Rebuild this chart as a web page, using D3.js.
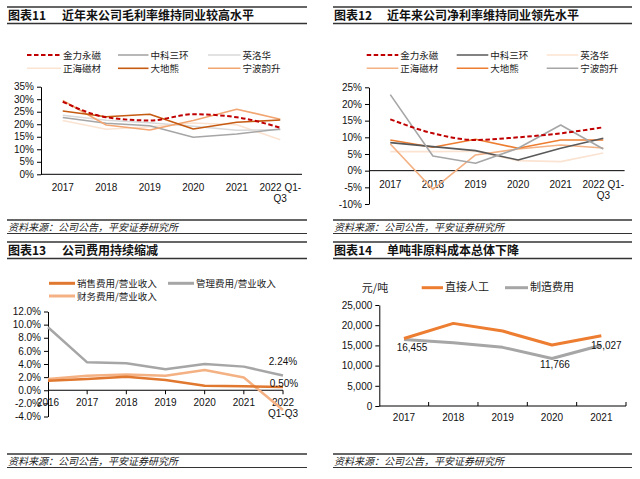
<!DOCTYPE html>
<html><head><meta charset="utf-8">
<script src="https://cdn.jsdelivr.net/npm/d3@7"></script>
<style>
body{margin:0;background:#fff;}
text{font-family:"Liberation Sans","Noto Sans CJK SC",sans-serif;}
.cn{font-family:"Noto Sans CJK SC","Liberation Sans",sans-serif;}
</style></head>
<body>
<svg id="c" width="640" height="479"></svg>
<script>
// ---------- DATA ----------
const years6 = ["2017","2018","2019","2020","2021","2022 Q1-Q3"];
const companies = ["金力永磁","中科三环","英洛华","正海磁材","大地熊","宁波韵升"];
// Chart 11: gross margin (%)
const gross_jlym = [29.0, 22.8, 21.5, 24.0, 22.8, 18.6];
const gross_zksh = [22.7, 20.4, 19.4, 14.8, 16.1, 18.1];
const gross_ylh  = [23.6, 21.6, 20.6, 19.2, 17.6, 17.8];
const gross_zhcc = [21.5, 18.0, 19.0, 20.5, 19.8, 13.8];
const gross_ddx  = [25.3, 23.0, 24.0, 18.1, 20.8, 21.7];
const gross_nbys = [29.5, 19.7, 17.7, 21.5, 26.0, 22.0];
// Chart 12: net margin (%)
const net_jlym = [15.4, 11.2, 9.2, 10.0, 11.2, 13.0];
const net_zksh = [8.4, 7.2, 6.0, 3.2, 6.7, 9.7];
const net_ylh  = [5.7, 5.7, 5.8, 3.0, 2.7, 5.3];
const net_zhcc = [8.0, -5.6, 4.7, 6.5, 7.7, 6.8];
const net_ddx  = [9.2, 7.0, 9.4, 6.7, 9.2, 9.2];
const net_nbys = [22.8, 4.4, 2.2, 6.7, 13.7, 6.5];
// Chart 13: expense ratios (%)
const years7 = ["2016","2017","2018","2019","2020","2021","2022 Q1-Q3"];
const expNames = ["销售费用/营业收入","管理费用/营业收入","财务费用/营业收入"];
const sellExp = [1.45, 1.7, 2.05, 1.55, 0.7, 0.6, 0.50];
const mgmtExp = [9.6, 4.25, 4.1, 3.2, 4.0, 3.6, 2.24];
const finExp  = [1.7, 2.2, 2.4, 2.2, 3.1, 1.95, -3.0];
// Chart 14: per-ton non-material cost (元/吨)
const years5 = ["2017","2018","2019","2020","2021"];
const costNames = ["直接人工","制造费用"];
const labor = [16700, 20450, 18550, 15100, 17400];
const mfg   = [16455, 15670, 14520, 11766, 15027];
const mfgLabels = [[0,"16,455"],[3,"11,766"],[4,"15,027"]];
// tick labels
const ticks11 = [0,5,10,15,20,25,30,35];
const ticks12 = [-10,-5,0,5,10,15,20,25];
const ticks13 = [-4,-2,0,2,4,6,8,10,12];
const ticks14 = [0,5000,10000,15000,20000,25000];

// ---------- HELPERS ----------
const svg = d3.select("#c");
const INK = "#333";

function frame(x0, x1, titleNum, titleText, titleX, top, srcY){
  const g = svg.append("g");
  g.append("line").attr("x1",x0).attr("x2",x1).attr("y1",top).attr("y2",top).attr("stroke",INK).attr("stroke-width",1.5);
  g.append("line").attr("x1",x0).attr("x2",x1).attr("y1",top+16.5).attr("y2",top+16.5).attr("stroke",INK).attr("stroke-width",1.5);
  g.append("text").attr("class","cn").attr("x",x0+1).attr("y",top+12.5).attr("font-size",12).attr("font-weight","bold").attr("fill","#111").text(titleNum);
  g.append("text").attr("class","cn").attr("x",titleX).attr("y",top+12.5).attr("font-size",12).attr("font-weight","bold").attr("fill","#111").text(titleText);
  g.append("line").attr("x1",x0).attr("x2",x1).attr("y1",srcY-7).attr("y2",srcY-7).attr("stroke",INK).attr("stroke-width",1.5);
  g.append("line").attr("x1",x0).attr("x2",x1).attr("y1",srcY+6.5).attr("y2",srcY+6.5).attr("stroke",INK).attr("stroke-width",1);
  g.append("text").attr("class","cn").attr("x",x0+1).attr("y",srcY+3.5).attr("font-size",10).attr("font-style","italic").attr("fill","#222").text("资料来源：公司公告，平安证券研究所");
}

function yAxis(y, x, ticks, fmt){
  const ax = d3.axisLeft(y).tickValues(ticks).tickFormat(fmt).tickSize(4).tickSizeOuter(0).tickPadding(3);
  const g = svg.append("g").attr("transform",`translate(${x},0)`).call(ax);
  g.select(".domain").attr("stroke","#000").attr("stroke-width",1);
  g.selectAll(".tick line").attr("stroke","#000");
  g.selectAll("text").attr("font-size",10).attr("fill","#111").style("font-family","Liberation Sans");
  return g;
}

function legendItem(x1, x2, y, color, width, dash, label, fs){
  svg.append("line").attr("x1",x1).attr("x2",x2).attr("y1",y).attr("y2",y)
    .attr("stroke",color).attr("stroke-width",width).attr("stroke-dasharray",dash||null);
  svg.append("text").attr("class","cn").attr("x",x2+2).attr("y",y+3.5).attr("font-size",fs||9.5).attr("fill","#222").text(label);
}

function drawLine(xf, y, data, color, width, dash, curve){
  const line = d3.line().x((d,i)=>xf(i)).y(d=>y(d)).curve(curve||d3.curveLinear);
  svg.append("path").datum(data).attr("d",line).attr("fill","none")
    .attr("stroke",color).attr("stroke-width",width).attr("stroke-dasharray",dash||null)
    .attr("stroke-linejoin","round");
}

function catLabels(xf, cats, y, splitter){
  cats.forEach((c,i)=>{
    const lines = splitter(c);
    const t = svg.append("text").attr("x",xf(i)).attr("y",y).attr("text-anchor","middle").attr("font-size",10).attr("fill","#111");
    lines.forEach((l,k)=>t.append("tspan").attr("x",xf(i)).attr("dy",k===0?0:11.5).text(l));
  });
}

// ---------- FRAMES ----------
frame(7, 307, "图表11", "近年来公司毛利率维持同业较高水平", 62, 7, 227);
frame(333, 632, "图表12", "近年来公司净利率维持同业领先水平", 387, 7, 227);
frame(7, 307, "图表13", "公司费用持续缩减", 62, 242, 461);
frame(333, 632, "图表14", "单吨非原料成本总体下降", 387, 242, 461);

const pct = d => d + "%";
const split2022 = c => c === "2022 Q1-Q3" ? ["2022 Q1-","Q3"] : [c];

// ---------- CHART 11 ----------
{
  const x = d3.scaleBand().domain(years6).range([41,302]).padding(0);
  const xf = i => x(years6[i]) + x.bandwidth()/2;
  const y = d3.scaleLinear().domain([0,35]).range([174.3,86.7]);
  yAxis(y, 41, ticks11, pct);
  svg.append("line").attr("x1",41).attr("x2",302).attr("y1",y(0)).attr("y2",y(0)).attr("stroke","#000");
  catLabels(xf, years6, 190.5, split2022);
  const cols = ["#C00000","#A6A6A6","#D9D9D9","#FBE3D2","#C55A11","#F2A571"];
  const data = [gross_jlym,gross_zksh,gross_ylh,gross_zhcc,gross_ddx,gross_nbys];
  const order = [3,2,1,5,4,0];
  order.forEach(k=>{
    if(k===0) drawLine(xf,y,data[k],cols[k],2,"4.5,2.5",d3.curveMonotoneX);
    else drawLine(xf,y,data[k],cols[k],1.6);
  });
  const lx = [[27,61],[118,148.5],[208,240.5]];
  companies.forEach((n,k)=>{
    const c = k%3, r = Math.floor(k/3);
    legendItem(lx[c][0], lx[c][1], 55+r*13.3, cols[k], k===0?2:1.6, k===0?"4.5,2.5":null, n);
  });
}

// ---------- CHART 12 ----------
{
  const x = d3.scaleBand().domain(years6).range([369,624.6]).padding(0);
  const xf = i => x(years6[i]) + x.bandwidth()/2;
  const y = d3.scaleLinear().domain([-10,25]).range([204,87.3]);
  yAxis(y, 369, ticks12, pct);
  svg.append("line").attr("x1",369).attr("x2",624.6).attr("y1",y(0)).attr("y2",y(0)).attr("stroke","#000");
  catLabels(xf, years6, 187.5, split2022);
  const cols = ["#C00000","#595959","#FBE3D2","#F4B183","#ED7D31","#A6A6A6"];
  const data = [net_jlym,net_zksh,net_ylh,net_zhcc,net_ddx,net_nbys];
  const order = [2,3,4,1,5,0];
  order.forEach(k=>{
    if(k===0) drawLine(xf,y,data[k],cols[k],2,"4.5,2.5",d3.curveMonotoneX);
    else drawLine(xf,y,data[k],cols[k],1.6);
  });
  const lx = [[366.7,398.3],[456.7,488.3],[546.7,578.3]];
  companies.forEach((n,k)=>{
    const c = k%3, r = Math.floor(k/3);
    legendItem(lx[c][0], lx[c][1], 55+r*13.3, cols[k], k===0?2:1.6, k===0?"4.5,2.5":null, n);
  });
}

// ---------- CHART 13 ----------
{
  const x = d3.scalePoint().domain(years7).range([48,283]);
  const xf = i => x(years7[i]);
  const y = d3.scaleLinear().domain([-4,12]).range([416.5,311.5]);
  yAxis(y, 48, ticks13, d => d.toFixed(1) + "%");
  svg.append("line").attr("x1",48).attr("x2",283).attr("y1",y(0)).attr("y2",y(0)).attr("stroke","#000");
  years7.forEach((c,i)=>{ if(i>0) svg.append("line").attr("x1",xf(i)).attr("x2",xf(i)).attr("y1",y(0)).attr("y2",y(0)+4).attr("stroke","#000"); });
  catLabels(xf, years7, 405.5, c => c === "2022 Q1-Q3" ? ["2022","Q1-Q3"] : [c]);
  const cols = ["#E07830","#A6A6A6","#F4B183"];
  drawLine(xf,y,mgmtExp,cols[1],2.5);
  drawLine(xf,y,finExp,cols[2],2.5);
  drawLine(xf,y,sellExp,cols[0],2.5);
  svg.append("text").attr("x",283).attr("y",y(mgmtExp[6])-10.5).attr("text-anchor","middle").attr("font-size",10).attr("fill","#111").text(mgmtExp[6].toFixed(2)+"%");
  svg.append("text").attr("x",284).attr("y",y(sellExp[6])+0.5).attr("text-anchor","middle").attr("font-size",10).attr("fill","#111").text(sellExp[6].toFixed(2)+"%");
  legendItem(49,75,283.3,cols[0],3,null,expNames[0]);
  legendItem(168,194,283.3,cols[1],3,null,expNames[1]);
  legendItem(49,75,296,cols[2],3,null,expNames[2]);
}

// ---------- CHART 14 ----------
{
  const x = d3.scaleBand().domain(years5).range([379.3,626]).padding(0);
  const xf = i => x(years5[i]) + x.bandwidth()/2;
  const y = d3.scaleLinear().domain([0,25000]).range([406,305]);
  yAxis(y, 379.3, ticks14, d3.format(","));
  svg.append("line").attr("x1",379.3).attr("x2",626).attr("y1",y(0)).attr("y2",y(0)).attr("stroke","#000");
  years5.forEach((c,i)=>{ svg.append("line").attr("x1",x(c)+x.bandwidth()).attr("x2",x(c)+x.bandwidth()).attr("y1",y(0)).attr("y2",y(0)-4).attr("stroke","#000"); });
  catLabels(xf, years5, 420.5, c=>[c]);
  drawLine(xf,y,mfg,"#A6A6A6",3);
  drawLine(xf,y,labor,"#ED7D31",3);
  const lblOff = {0:[8,11.5],3:[3,10],4:[5,3.5]};
  mfgLabels.forEach(([i,t])=>{
    svg.append("text").attr("x",xf(i)+lblOff[i][0]).attr("y",y(mfg[i])+lblOff[i][1]).attr("text-anchor","middle").attr("font-size",10).attr("fill","#111").text(t);
  });
  svg.append("text").attr("class","cn").attr("x",375).attr("y",291.5).attr("text-anchor","middle").attr("font-size",11).attr("fill","#222").text("元/吨");
  legendItem(421.7,443,287.7,"#ED7D31",3,null,costNames[0],11);
  legendItem(505,528,287.7,"#A6A6A6",3,null,costNames[1],11);
}
</script>
</body></html>
